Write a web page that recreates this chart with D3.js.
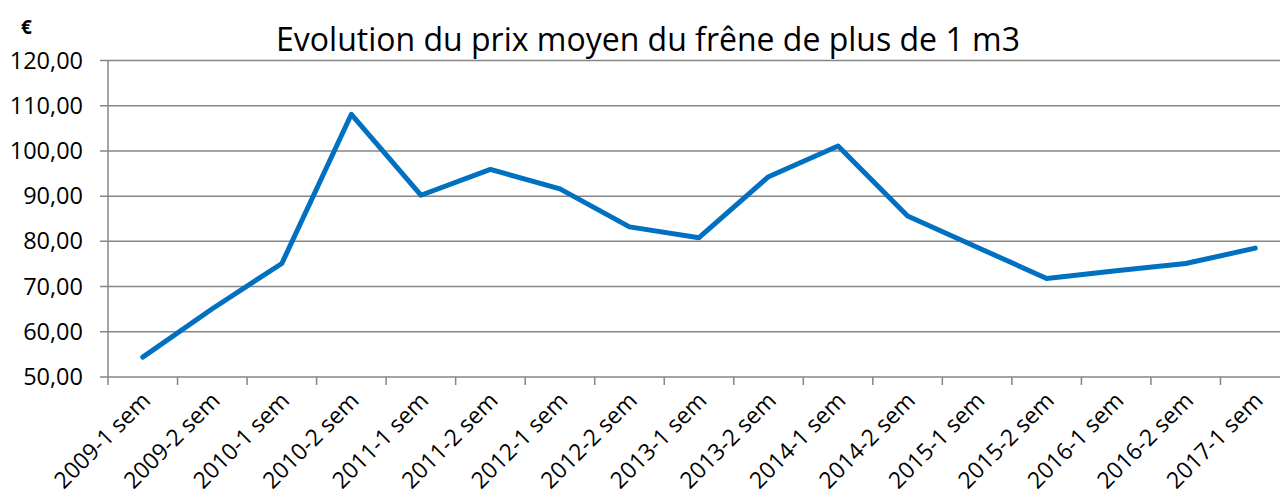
<!DOCTYPE html>
<html>
<head>
<meta charset="utf-8">
<script src="https://cdn.jsdelivr.net/npm/d3@7"></script>
<style>
  body { margin: 0; background: #fff; }
  text { font-family: "Open Sans", sans-serif; fill: #000; }
</style>
</head>
<body>
<div id="chart"></div>
<script>
// semesters on the x axis
var categories = ["2009-1 sem", "2009-2 sem", "2010-1 sem", "2010-2 sem", "2011-1 sem",
  "2011-2 sem", "2012-1 sem", "2012-2 sem", "2013-1 sem", "2013-2 sem", "2014-1 sem",
  "2014-2 sem", "2015-1 sem", "2015-2 sem", "2016-1 sem", "2016-2 sem", "2017-1 sem"]

// average price, euros per m3
var prices = [54.4, 65.1, 75.1, 108.1, 90.2, 95.9, 91.6, 83.2, 80.8, 94.3, 101.1,
  85.6, 78.7, 71.8, 73.5, 75.1, 78.5]

var yTicks = [50, 60, 70, 80, 90, 100, 110, 120]

var title = "Evolution du prix moyen du frêne de plus de 1 m3"

var w = 1280
var h = 499
var plotLeft = 108, plotTop = 60.5, plotRight = 1290, plotBottom = 377

var svg = d3.select("#chart")
  .append("svg")
  .attr("width", w)
  .attr("height", h)

var x = d3.scaleBand()
  .domain(categories)
  .range([plotLeft, plotRight])

var y = d3.scaleLinear()
  .domain([50, 120])
  .range([plotBottom, plotTop])

// horizontal grid
svg.append("g")
  .selectAll("line")
  .data(yTicks)
  .enter()
  .append("line")
  .attr("x1", plotLeft - 8)
  .attr("x2", w)
  .attr("y1", function(d) { return y(d) })
  .attr("y2", function(d) { return y(d) })
  .attr("stroke", "#868686")
  .attr("stroke-width", 1.5)

// y axis
var axisLeft = d3.axisLeft(y)
  .tickValues(yTicks)
  .tickSize(0)
  .tickPadding(25)
  .tickFormat(function(d) { return d3.format(".2f")(d).replace(".", ",") })

var gy = svg.append("g")
  .attr("transform", "translate(" + plotLeft + ",0)")
  .call(axisLeft)
gy.select(".domain").remove()
gy.selectAll("text")
  .attr("font-size", "23.5px")
  .attr("font-family", "Open Sans, sans-serif")
  .attr("fill", "#000")

svg.append("line")
  .attr("x1", plotLeft).attr("x2", plotLeft)
  .attr("y1", plotTop).attr("y2", plotBottom)
  .attr("stroke", "#868686")
  .attr("stroke-width", 1.5)

// x axis ticks between categories
var bounds = categories.map(function(c) { return x(c) }).concat([plotRight])
svg.append("g")
  .selectAll("line")
  .data(bounds)
  .enter()
  .append("line")
  .attr("x1", function(d) { return d })
  .attr("x2", function(d) { return d })
  .attr("y1", plotBottom)
  .attr("y2", plotBottom + 8)
  .attr("stroke", "#868686")
  .attr("stroke-width", 1.5)

// x labels, rotated
svg.append("g")
  .selectAll("text")
  .data(categories)
  .enter()
  .append("text")
  .text(function(d) { return d })
  .attr("transform", function(d) {
    return "translate(" + (x(d) + x.bandwidth() / 2 + 9) + "," + (plotBottom + 25) + ") rotate(-45)"
  })
  .attr("text-anchor", "end")
  .attr("font-size", "23px")

// line
var line = d3.line()
  .x(function(d, i) { return x(categories[i]) + x.bandwidth() / 2 })
  .y(function(d) { return y(d) })

svg.append("path")
  .datum(prices)
  .attr("d", line)
  .attr("fill", "none")
  .attr("stroke", "#0070c0")
  .attr("stroke-width", 5)
  .attr("stroke-linejoin", "round")
  .attr("stroke-linecap", "round")

// title and unit
svg.append("text")
  .attr("x", 648)
  .attr("y", 51)
  .attr("text-anchor", "middle")
  .attr("font-size", "32px")
  .text(title)

svg.append("text")
  .attr("x", 21)
  .attr("y", 34)
  .attr("font-size", "19px")
  .attr("font-weight", "bold")
  .text("€")
</script>
</body>
</html>
